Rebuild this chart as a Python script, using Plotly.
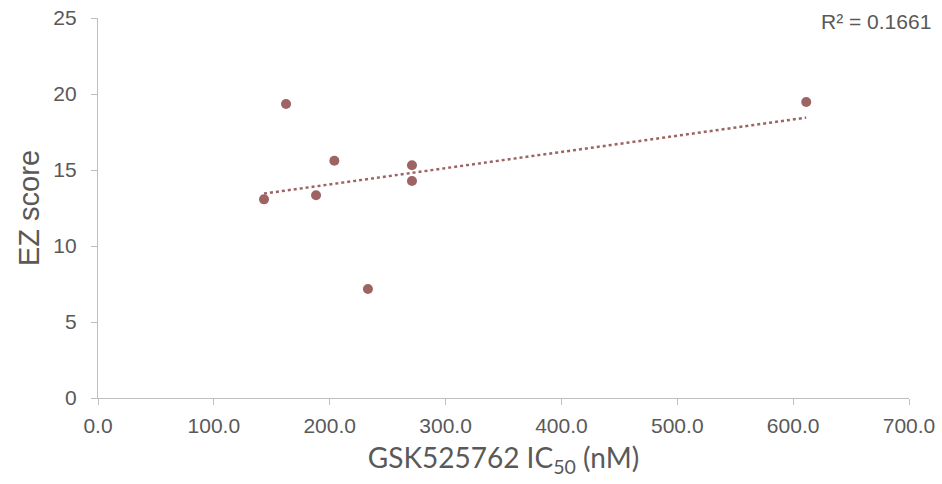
import numpy as np
import plotly.graph_objects as go

ic50_nM = [143.3, 162.3, 188.2, 204.0, 233.0, 271.0, 271.0, 611.3]
ez_score = [13.07, 19.34, 13.34, 15.61, 7.17, 15.31, 14.28, 19.47]
r2_label = "R² = 0.1661"
x_ticks = [0, 100, 200, 300, 400, 500, 600, 700]
y_ticks = [0, 5, 10, 15, 20, 25]

color = "#9e6363"
x = np.array(ic50_nM)
y = np.array(ez_score)
slope, intercept = np.polyfit(x, y, 1)
xl = np.array([x.min(), x.max()])
yl = slope * xl + intercept

fig = go.Figure()
fig.add_trace(go.Scatter(x=xl, y=yl, mode="lines",
                         line=dict(color=color, width=2.5, dash="dot"),
                         hoverinfo="skip", showlegend=False))
fig.add_trace(go.Scatter(x=ic50_nM, y=ez_score, mode="markers",
                         marker=dict(color=color, size=10),
                         showlegend=False))

axis_col = "#bfbfbf"
txt_col = "#595959"
fig.update_layout(
    width=942, height=484,
    margin=dict(l=98, r=33, t=18, b=86),
    plot_bgcolor="white", paper_bgcolor="white",
    font=dict(family="Liberation Sans, Arial, sans-serif", color=txt_col),
    xaxis=dict(range=[0, 700], tickvals=x_ticks, tickformat=".1f",
               automargin=False,
               showgrid=False, zeroline=False, showline=True,
               linecolor=axis_col, linewidth=1.3,
               ticks="outside", ticklen=6, tickcolor=axis_col,
               ticklabelstandoff=3,
               tickfont=dict(size=21, color=txt_col),
               title=dict(text="GSK525762 IC<sub>50</sub> (nM)", standoff=12,
                          font=dict(size=28, family="Lato, Open Sans, sans-serif", color=txt_col))),
    yaxis=dict(range=[0, 25], tickvals=y_ticks,
               automargin=False,
               showgrid=False, zeroline=False, showline=True,
               linecolor=axis_col, linewidth=1.3,
               ticks="outside", ticklen=6, tickcolor=axis_col,
               ticklabelstandoff=10,
               tickfont=dict(size=21, color=txt_col),
               title=dict(text="EZ score", standoff=5,
                          font=dict(size=29, color=txt_col))),
    annotations=[dict(text=r2_label, xref="paper", yref="paper",
                      x=1.03, y=0.99, xanchor="right", yanchor="middle",
                      showarrow=False, font=dict(size=21, color=txt_col))],
)
fig.write_html("out.html")
